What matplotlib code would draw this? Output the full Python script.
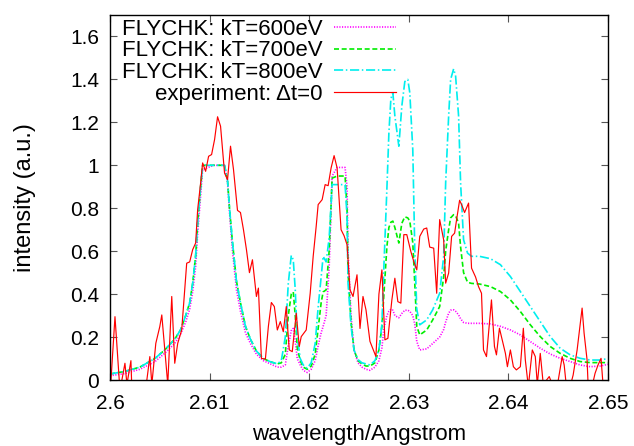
import matplotlib

matplotlib.use("Agg")
import matplotlib.pyplot as plt
from matplotlib.ticker import FormatStrFormatter

plt.rcParams["font.family"] = ["Liberation Sans", "DejaVu Sans"]

# experiment, dt = 0
exp_wl = [
    2.6001, 2.6005, 2.6010, 2.6015, 2.6017, 2.6021, 2.6022, 2.6027, 2.6032, 2.6037,
    2.6040, 2.6042, 2.6046, 2.6050, 2.6052, 2.6055, 2.6058, 2.6062, 2.6065, 2.6068,
    2.6072, 2.6077, 2.6080, 2.6083, 2.6086, 2.6088, 2.6091, 2.6093, 2.6096, 2.6099,
    2.6102, 2.6105, 2.6108, 2.6111, 2.6115, 2.6118, 2.6121, 2.6124, 2.6128, 2.6131,
    2.6134, 2.6137, 2.6140, 2.6143, 2.6147, 2.6149, 2.6152, 2.6156, 2.6159, 2.6162,
    2.6165, 2.6168, 2.6171, 2.6174, 2.6177, 2.6178, 2.6180, 2.6183, 2.6187, 2.6190,
    2.6192, 2.6197, 2.6201, 2.6204, 2.6207, 2.6209, 2.6213, 2.6216, 2.6219, 2.6222,
    2.6225, 2.6228, 2.6232, 2.6235, 2.6238, 2.6241, 2.6244, 2.6248, 2.6251, 2.6254,
    2.6257, 2.6261, 2.6264, 2.6267, 2.6270, 2.6273, 2.6276, 2.6279, 2.6283, 2.6286,
    2.6289, 2.6292, 2.6295, 2.6298, 2.6302, 2.6305, 2.6308, 2.6311, 2.6315, 2.6318,
    2.6321, 2.6325, 2.6328, 2.6331, 2.6335, 2.6337, 2.6340, 2.6343, 2.6346, 2.6348,
    2.6351, 2.6353, 2.6356, 2.6360, 2.6363, 2.6367, 2.6370, 2.6373, 2.6375, 2.6378,
    2.6383, 2.6386, 2.6388, 2.6391, 2.6393, 2.6397, 2.6399, 2.6402, 2.6405, 2.6408,
    2.6412, 2.6415, 2.6417, 2.6420, 2.6424, 2.6427, 2.6429, 2.6432, 2.6435, 2.6441,
    2.6444, 2.6449, 2.6454, 2.6456, 2.6458, 2.6462, 2.6465, 2.6469, 2.6471, 2.6474,
    2.6476, 2.6479, 2.6480, 2.6484, 2.6487, 2.6490, 2.6493, 2.6495, 2.6498,
]
exp_int = [
    0.00, 0.295, -0.05, 0.078, -0.02, 0.09, -0.05, -0.05, -0.04, 0.00,
    0.109, -0.02, 0.171, 0.249, 0.303, 0.14, -0.02, 0.389, 0.078, 0.171,
    0.233, 0.544, 0.55, 0.607, 0.638, 0.793, 0.918, 1.011, 0.972, 1.042,
    1.05, 1.12, 1.226, 1.182, 0.964, 0.933, 1.089, 0.98, 0.79, 0.78,
    0.70, 0.607, 0.50, 0.56, 0.389, 0.428, 0.101, 0.097, 0.249, 0.361,
    0.342, 0.233, 0.272, 0.225, 0.342, 0.264, 0.14, 0.132, 0.311, 0.156,
    0.202, 0.233, 0.404, 0.576, 0.715, 0.817, 0.84, 0.91, 0.905, 0.988,
    1.045, 0.988, 0.70, 0.672, 0.63, 0.42, 0.389, 0.49, 0.24, 0.389,
    0.327, 0.18, 0.145, 0.109, 0.40, 0.513, 0.187, 0.194, 0.373, 0.474,
    0.365, 0.358, 0.677, 0.677, 0.599, 0.552, 0.513, 0.669, 0.703, 0.708,
    0.619, 0.614, 0.404, 0.747, 0.653, 0.451, 0.498, 0.669, 0.684, 0.747,
    0.837, 0.817, 0.78, 0.824, 0.521, 0.48, 0.435, 0.404, 0.14, 0.109,
    0.373, 0.156, 0.117, 0.241, 0.202, 0.124, 0.062, 0.14, 0.062, 0.047,
    0.062, 0.241, 0.093, -0.03, 0.14, 0.109, -0.02, 0.124, -0.02, 0.016,
    -0.02, -0.03, 0.109, 0.07, -0.02, -0.03, 0.023, 0.14, 0.218, 0.335,
    0.218, 0.093, -0.02, -0.03, 0.031, 0.07, 0.101, -0.02, -0.03,
]

# FLYCHK spectra on a common wavelength grid
fly_wl = [
    2.6000, 2.6015, 2.6030, 2.6045, 2.6055, 2.6065, 2.6071, 2.6076, 2.6080, 2.6083,
    2.6086, 2.6088, 2.6091, 2.6093, 2.6104, 2.6115, 2.6118, 2.6120, 2.6123, 2.6127,
    2.6131, 2.6136, 2.6141, 2.6147, 2.6154, 2.6161, 2.6168, 2.6172, 2.6176, 2.6179,
    2.6182, 2.6184, 2.6186, 2.6188, 2.6191, 2.6194, 2.6198, 2.6202, 2.6206, 2.6209,
    2.6212, 2.6214, 2.6217, 2.6220, 2.6222, 2.6223, 2.6228, 2.6236, 2.6238, 2.6239,
    2.6242, 2.6245, 2.6249, 2.6253, 2.6257, 2.6261, 2.6266, 2.6270, 2.6273, 2.6275,
    2.6278, 2.6280, 2.6282, 2.6284, 2.6286, 2.6290, 2.6293, 2.6296, 2.6299, 2.6301,
    2.6304, 2.6306, 2.6308, 2.6311, 2.6318, 2.6324, 2.6331, 2.6335, 2.6337, 2.6340,
    2.6342, 2.6345, 2.6347, 2.6350, 2.6352, 2.6355, 2.6359, 2.6363, 2.6371, 2.6382,
    2.6392, 2.6402, 2.6412, 2.6422, 2.6432, 2.6442, 2.6452, 2.6462, 2.6472, 2.6482,
    2.6492, 2.6500,
]
kt600 = [
    0.02, 0.03, 0.05, 0.085, 0.125, 0.17, 0.215, 0.27, 0.33, 0.41,
    0.53, 0.68, 0.86, 0.98, 1.0, 1.0, 0.92, 0.78, 0.60, 0.42,
    0.32, 0.22, 0.17, 0.12, 0.09, 0.075, 0.06, 0.06, 0.07, 0.16,
    0.23, 0.24, 0.18, 0.10, 0.07, 0.045, 0.035, 0.05, 0.09, 0.16,
    0.22, 0.25, 0.30, 0.52, 0.80, 0.95, 0.99, 0.99, 0.90, 0.60,
    0.30, 0.14, 0.08, 0.06, 0.05, 0.045, 0.06, 0.09, 0.15, 0.24,
    0.30, 0.32, 0.33, 0.325, 0.30, 0.29, 0.31, 0.325, 0.325, 0.32,
    0.30, 0.26, 0.18, 0.14, 0.145, 0.17, 0.20, 0.235, 0.27, 0.311,
    0.325, 0.327, 0.32, 0.303, 0.285, 0.268, 0.264, 0.264, 0.264, 0.261,
    0.25, 0.233, 0.21, 0.179, 0.148, 0.121, 0.101, 0.086, 0.07, 0.062,
    0.065, 0.073,
]
kt700 = [
    0.028, 0.04, 0.06, 0.10, 0.14, 0.19, 0.235, 0.30, 0.36, 0.45,
    0.58, 0.73, 0.90, 1.0, 1.0, 1.0, 0.93, 0.80, 0.64, 0.46,
    0.36, 0.25, 0.19, 0.135, 0.10, 0.085, 0.075, 0.08, 0.12, 0.30,
    0.40, 0.41, 0.30, 0.15, 0.09, 0.06, 0.05, 0.065, 0.12, 0.24,
    0.36, 0.41, 0.42, 0.60, 0.82, 0.94, 0.95, 0.95, 0.80, 0.50,
    0.27, 0.14, 0.09, 0.075, 0.065, 0.065, 0.08, 0.14, 0.25, 0.40,
    0.62, 0.71, 0.735, 0.74, 0.71, 0.638, 0.73, 0.76, 0.755, 0.74,
    0.64, 0.45, 0.25, 0.21, 0.233, 0.28, 0.342, 0.48, 0.60, 0.70,
    0.755, 0.77, 0.765, 0.73, 0.62, 0.50, 0.455, 0.45, 0.447, 0.435,
    0.412, 0.373, 0.319, 0.257, 0.202, 0.156, 0.124, 0.101, 0.086, 0.081,
    0.081, 0.081,
]
kt800 = [
    0.028, 0.04, 0.06, 0.10, 0.14, 0.19, 0.235, 0.30, 0.36, 0.45,
    0.58, 0.73, 0.90, 1.0, 1.0, 1.0, 0.93, 0.80, 0.64, 0.46,
    0.36, 0.25, 0.19, 0.135, 0.10, 0.085, 0.075, 0.09, 0.20, 0.45,
    0.58, 0.56, 0.42, 0.20, 0.10, 0.07, 0.055, 0.08, 0.17, 0.34,
    0.48, 0.576, 0.55, 0.66, 0.82, 0.91, 0.91, 0.91, 0.76, 0.45,
    0.25, 0.14, 0.095, 0.08, 0.075, 0.07, 0.09, 0.14, 0.26, 0.53,
    0.89, 1.15, 1.31, 1.338, 1.23, 1.089, 1.276, 1.39, 1.40, 1.338,
    1.073, 0.607, 0.33, 0.257, 0.28, 0.327, 0.404, 0.576, 0.918, 1.229,
    1.40, 1.449, 1.415, 1.229, 0.918, 0.653, 0.591, 0.576, 0.576, 0.565,
    0.537, 0.482, 0.412, 0.342, 0.272, 0.202, 0.148, 0.117, 0.101, 0.093,
    0.093, 0.10,
]

fig = plt.figure(figsize=(6.34, 4.46), dpi=100)
ax = fig.add_axes([110 / 634, 66 / 446, 498 / 634, 365 / 446])

ax.plot(fly_wl, kt600, color="#ff00ff", lw=1.2, dashes=(0.7, 0.9), label="FLYCHK: kT=600eV")
ax.plot(fly_wl, kt700, color="#00ee00", lw=1.2, dashes=(3.0, 1.6), label="FLYCHK: kT=700eV")
ax.plot(fly_wl, kt800, color="#00eeee", lw=1.2, dashes=(5.5, 1.6, 0.9, 1.6), label="FLYCHK: kT=800eV")
ax.plot(exp_wl, exp_int, color="#ff0000", lw=0.85, label="experiment: \u0394t=0")

ax.set_xlim(2.6, 2.65)
ax.set_ylim(0, 1.7)
ax.set_xticks([2.6, 2.61, 2.62, 2.63, 2.64, 2.65])
ax.set_yticks([0, 0.2, 0.4, 0.6, 0.8, 1.0, 1.2, 1.4, 1.6])
ax.xaxis.set_major_formatter(FormatStrFormatter("%g"))
ax.yaxis.set_major_formatter(FormatStrFormatter("%g"))
ax.tick_params(direction="in", length=5, width=0.8, top=True, right=True,
               labelsize=15, pad=8, color="#555555")
ax.tick_params(axis="x", pad=10)
for side in ax.spines.values():
    side.set_linewidth(1.0)

ax.set_xlabel("wavelength/Angstrom", fontsize=16, labelpad=8)
ax.set_ylabel("intensity (a.u.)", fontsize=17, labelpad=24)

leg = ax.legend(loc="upper right", bbox_to_anchor=(0.574, 0.99), frameon=False,
                markerfirst=False, fontsize=16, handlelength=2.8, handletextpad=0.5,
                labelspacing=0.03, borderpad=0.0, borderaxespad=0.0)

fig.savefig("out.png", dpi=100)
